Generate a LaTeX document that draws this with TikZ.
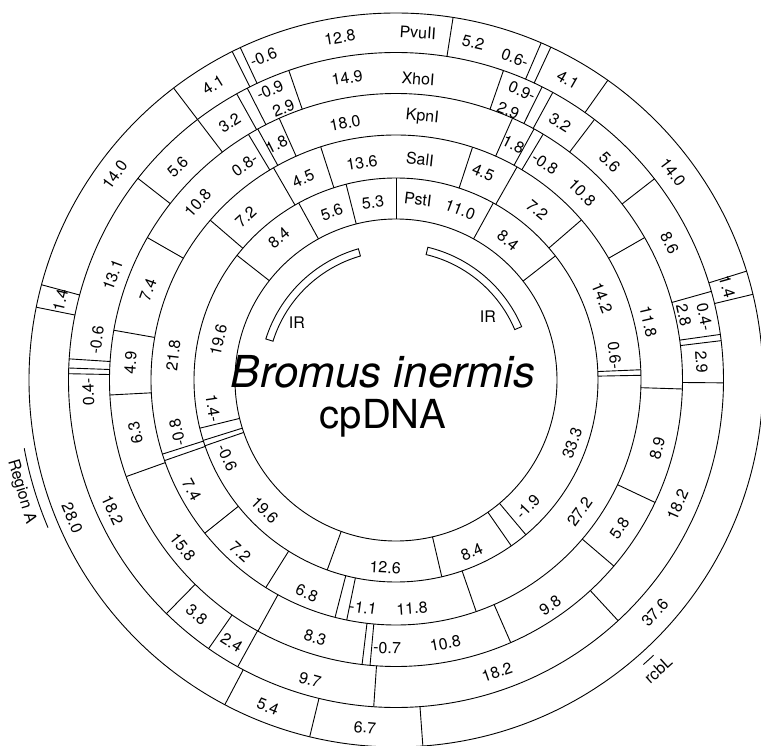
\documentclass[tikz,border=0pt]{standalone}
\usepackage{fontspec}
\setmainfont{TeX Gyre Heros}
\newcount\labno
\tikzset{
  ring/.style={line width=0.9pt},
  sep/.style={line width=0.9pt},
  lbl/.style={font=\fontsize{16}{18}\selectfont, inner sep=0pt},
  irband/.style={line width=0.9pt},
  title/.style={inner sep=0pt},
}
\newcommand\labU[3]{\global\advance\labno by 1 \node[lbl,rotate={#1-90}] (lab\the\labno) at (#1:#2pt) {#3};}
\newcommand\labD[3]{\global\advance\labno by 1 \node[lbl,rotate={#1+90}] (lab\the\labno) at (#1:#2pt) {#3};}
\begin{document}
\begin{tikzpicture}
\useasboundingbox (-396pt,-365pt) rectangle (365pt,380pt);
% rings
\foreach \r in {161,202,245,286.5,327.5,367} \draw[ring] (0,0) circle[radius=\r pt];
% PstI separators
\foreach \a in {90,104.3,118.8,141.9,-166.2,-162.6,-161.0,-109.9,-76.9,-55.2,-50,37.9,61.2}
  \draw[sep] (\a:161pt) -- (\a:202pt);
% SalI separators
\foreach \a in {71.8,107.9,120,139.3,-162.4,-160.8,-141.3,-122.1,-104.4,-101.6,-70.9,1.1,2.4,40.8,60.4}
  \draw[sep] (\a:202pt) -- (\a:245pt);
% KpnI separators
\foreach \a in {66.0,114.05,118.85,121.0,150.2,170.0,-177.0,-160.3,-118.8,-96.8,-95.2,-66.4,-40.5,-25.3,-1.8,29.8,59.1,61.2}
  \draw[sep] (\a:245pt) -- (\a:286.5pt);
% XhoI separators
\foreach \a in {109.1,117.0,119.1,127.3,142.0,176.3,177.9,178.9,-134.5,-124.9,-118.9,-93.9,-47.3,-0.5,6.9,8.0,15.7,37.9,52.7,61.4,63.5,70.85}
  \draw[sep] (\a:286.5pt) -- (\a:327.5pt);
% PvuII separators
\foreach \a in {115.1,116.5,127.3,164.96,168.56,-117.8,-103.6,-85.8,13.5,17.25,54.75,65.05,66.7,81.05}
  \draw[sep] (\a:327.5pt) -- (\a:367pt);
% PvuII labels
\labU{112.3}{349}{-0.6}
\labU{99.3}{347}{12.8}
\labU{86.4}{348}{PvuII}
\labU{77.1}{346}{5.2}
\labU{69.7}{343}{0.6-}
\labU{60.2}{346}{4.1}
\labU{36.9}{346}{14.0}
\labU{15.7}{344}{1.4}
\labD{-41.9}{348}{37.6}
\labD{-95.1}{349}{6.7}
\labD{-111.4}{351}{5.4}
\labD{-156.9}{352}{28.0}
\labU{166.6}{345}{1.4}
\labU{143.9}{348}{14.0}
\labU{121.8}{347}{4.1}
% XhoI labels
\labU{113.5}{316}{-0.9}
\labU{112.5}{294}{2.9}
\labU{99.2}{306}{14.9}
\labU{85.8}{302}{XhoI}
\labU{66.4}{315}{0.9-}
\labU{67.4}{292}{2.9}
\labU{57.5}{305}{3.2}
\labU{45.5}{305}{5.6}
\labU{26.6}{306}{8.6}
\labU{11.6}{315}{0.4-}
\labU{12.7}{295}{2.8}
\labU{3.4}{306}{2.9}
\labD{-23.9}{308}{18.2}
\labD{-70.9}{309}{18.2}
\labD{-106}{312}{9.7}
\labD{-122}{310}{2.4}
\labD{-130.3}{308}{3.8}
\labD{-155.4}{312}{18.2}
\labU{-177.8}{308}{0.4-}
\labU{172.4}{302}{-0.6}
\labU{159.7}{302}{13.1}
\labU{135.7}{305}{5.6}
\labU{122.9}{306}{3.2}
% KpnI labels
\labU{116.9}{264}{1.8}
\labU{101.2}{262}{18.0}
\labU{84.3}{264}{KpnI}
\labU{63.5}{263}{1.8}
\labU{55.5}{263}{-0.8}
\labU{45.2}{264}{10.8}
\labU{13}{259}{11.8}
\labD{-14.6}{270}{8.9}
\labD{-33.5}{268}{5.8}
\labD{-55.6}{273}{9.8}
\labD{-79.4}{268}{10.8}
\labD{-91.9}{268}{-0.7}
\labD{-107.4}{270}{8.3}
\labD{-141.9}{271}{15.8}
\labU{-168.5}{266}{6.3}
\labU{176.3}{266}{4.9}
\labU{160}{264}{7.4}
\labU{138.2}{266}{10.8}
\labU{125.1}{263}{0.8-}
% SalI labels
\labU{114.7}{222}{4.5}
\labU{98.9}{220}{13.6}
\labU{83.8}{222}{SalI}
\labU{67.2}{225}{4.5}
\labU{50.3}{221}{7.2}
\labU{21.7}{222}{14.2}
\labU{6.5}{220}{0.6-}
\labD{-35.7}{226}{27.2}
\labD{-86}{229}{11.8}
\labD{-98.2}{230}{-1.1}
\labD{-112.7}{231}{6.8}
\labD{-132.2}{232}{7.2}
\labD{-151.7}{232}{7.4}
\labU{-166.4}{225}{-0.8}
\labU{173.6}{224}{21.8}
\labU{132.6}{222}{7.2}
% PstI labels
\labU{110.9}{180}{5.6}
\labU{97.4}{179}{5.3}
\labU{83.1}{182}{PstI}
\labU{69.4}{182}{11.0}
\labU{51.3}{179}{8.4}
\labD{-19.7}{187}{33.3}
\labD{-43.9}{183}{-1.9}
\labD{-66.2}{188}{8.4}
\labD{-93.3}{188}{12.6}
\labD{-135.2}{185}{19.6}
\labD{-155.2}{186}{-0.6}
\labD{-171.3}{185}{1.4-}
\labU{167.3}{182}{19.6}
\labU{129.5}{184}{8.4}
% IR bands
\draw[irband] (106:129pt) arc[start angle=106,end angle=162.5,radius=129pt] -- (162.5:136.5pt) arc[start angle=162.5,end angle=106,radius=136.5pt] -- cycle;
\draw[irband] (23:129pt) arc[start angle=23,end angle=76.5,radius=129pt] -- (76.5:136.5pt) arc[start angle=76.5,end angle=23,radius=136.5pt] -- cycle;
\node[lbl] (irl) at (-99pt,57pt) {IR};
\node[lbl] (irr) at (92pt,63pt) {IR};
% gene marks
\draw[ring] (-169.6:378pt) arc[start angle=-169.6,end angle=-157,radius=378pt];
\node[lbl,rotate=-73.4] (rega) at (-163.4:391pt) {Region A};
\draw[ring] (-49:377pt) arc[start angle=-49,end angle=-46.9,radius=377pt];
\node[lbl,rotate=42.1] (rbcl) at (-47.9:391pt) {rcbL};
% title
\node[title,font=\fontsize{44}{50}\selectfont\itshape] (bi) at (-13pt,8pt) {Bromus inermis};
\node[title,font=\fontsize{40}{48}\selectfont] (cp) at (-13pt,-38pt) {cpDNA};
\end{tikzpicture}
\end{document}
